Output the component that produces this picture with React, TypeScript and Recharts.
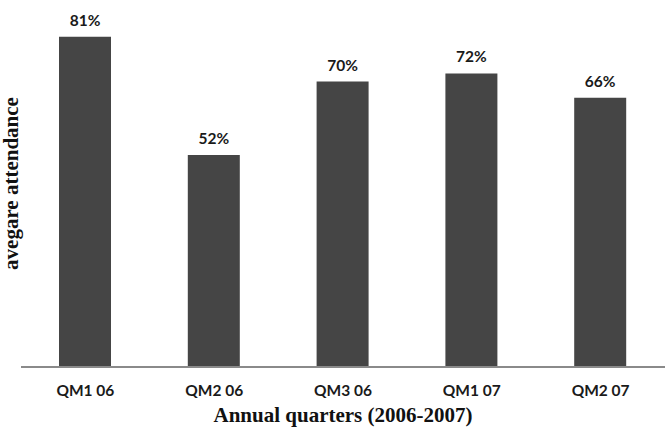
import React from 'react';
import { BarChart, Bar, XAxis, YAxis, LabelList, Label } from 'recharts';

const categories = ['QM1 06', 'QM2 06', 'QM3 06', 'QM1 07', 'QM2 07'];
const attendance = [81, 52, 70, 72, 66];

const data = categories.map((q, i) => ({ q, v: attendance[i] }));

export default function App() {
  return (
    <div style={{ position: 'absolute', left: 0, top: 0, background: '#fff' }}>
      <BarChart
        width={666}
        height={430}
        data={data}
        margin={{ top: 0, right: 1, bottom: 0, left: 0 }}
      >
        <XAxis
          dataKey="q"
          height={63}
          tickLine={false}
          tickSize={6}
          tickMargin={12}
          axisLine={{ stroke: '#8a8a8a', strokeWidth: 2 }}
          tick={{ fill: '#1a1a1a', fontSize: 15.5, fontWeight: 700, fontFamily: 'Lato, sans-serif' }}
        >
          <Label
            value="Annual quarters (2006-2007)"
            position="insideBottom"
            offset={8}
            style={{ fill: '#111', fontSize: 21, fontWeight: 700, fontFamily: '"Liberation Serif", serif' }}
          />
        </XAxis>
        <YAxis
          width={21}
          domain={[0, 90]}
          tick={false}
          axisLine={false}
          tickLine={false}
        >
          <Label
            value="avegare attendance"
            angle={-90}
            position="center"
            style={{ fill: '#111', fontSize: 21, fontWeight: 700, fontFamily: '"Liberation Serif", serif', textAnchor: 'middle' }}
          />
        </YAxis>
        <Bar dataKey="v" fill="#454545" barSize={52} isAnimationActive={false}>
          <LabelList
            dataKey="v"
            position="top"
            offset={11}
            formatter={(v: number) => `${v}%`}
            style={{ fill: '#1a1a1a', fontSize: 15.5, fontWeight: 700, fontFamily: 'Lato, sans-serif' }}
          />
        </Bar>
      </BarChart>
    </div>
  );
}
